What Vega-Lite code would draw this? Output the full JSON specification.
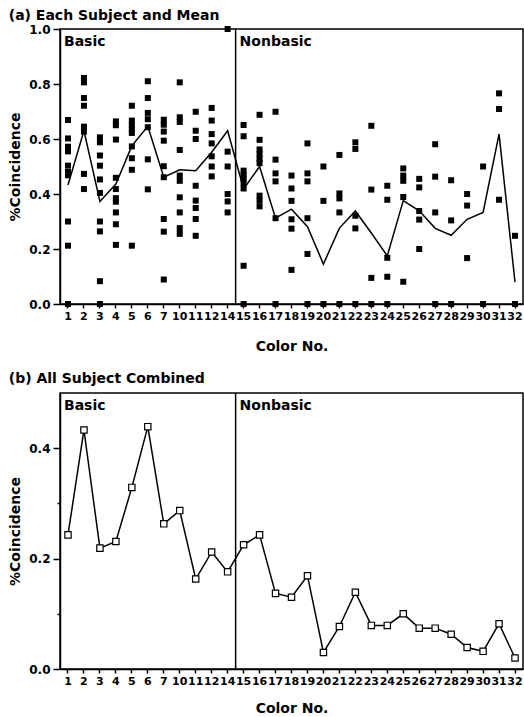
{
  "$schema": "https://vega.github.io/schema/vega-lite/v6.json",
  "padding": {"left": 7, "top": 8, "right": 0, "bottom": 0},
  "background": "white",
  "spacing": 17,
  "datasets": {
    "subjects": [
      {"color":1,"v":0.669},{"color":1,"v":0.602},{"color":1,"v":0.572},{"color":1,"v":0.555},{"color":1,"v":0.503},{"color":1,"v":0.48},{"color":1,"v":0.468},{"color":1,"v":0.30},{"color":1,"v":0.212},{"color":1,"v":0},
      {"color":2,"v":0.822},{"color":2,"v":0.806},{"color":2,"v":0.749},{"color":2,"v":0.721},{"color":2,"v":0.645},{"color":2,"v":0.627},{"color":2,"v":0.473},{"color":2,"v":0.418},
      {"color":3,"v":0.606},{"color":3,"v":0.588},{"color":3,"v":0.54},{"color":3,"v":0.503},{"color":3,"v":0.453},{"color":3,"v":0.404},{"color":3,"v":0.30},{"color":3,"v":0.264},{"color":3,"v":0.083},{"color":3,"v":0},
      {"color":4,"v":0.664},{"color":4,"v":0.65},{"color":4,"v":0.598},{"color":4,"v":0.459},{"color":4,"v":0.418},{"color":4,"v":0.385},{"color":4,"v":0.372},{"color":4,"v":0.333},{"color":4,"v":0.29},{"color":4,"v":0.215},
      {"color":5,"v":0.721},{"color":5,"v":0.667},{"color":5,"v":0.65},{"color":5,"v":0.635},{"color":5,"v":0.622},{"color":5,"v":0.573},{"color":5,"v":0.53},{"color":5,"v":0.488},{"color":5,"v":0.212},
      {"color":6,"v":0.81},{"color":6,"v":0.749},{"color":6,"v":0.695},{"color":6,"v":0.672},{"color":6,"v":0.643},{"color":6,"v":0.526},{"color":6,"v":0.417},
      {"color":7,"v":0.67},{"color":7,"v":0.652},{"color":7,"v":0.627},{"color":7,"v":0.594},{"color":7,"v":0.501},{"color":7,"v":0.461},{"color":7,"v":0.309},{"color":7,"v":0.263},{"color":7,"v":0.089},
      {"color":10,"v":0.806},{"color":10,"v":0.679},{"color":10,"v":0.662},{"color":10,"v":0.56},{"color":10,"v":0.467},{"color":10,"v":0.448},{"color":10,"v":0.388},{"color":10,"v":0.333},{"color":10,"v":0.276},{"color":10,"v":0.255},
      {"color":11,"v":0.699},{"color":11,"v":0.63},{"color":11,"v":0.6},{"color":11,"v":0.43},{"color":11,"v":0.376},{"color":11,"v":0.349},{"color":11,"v":0.309},{"color":11,"v":0.248},
      {"color":12,"v":0.713},{"color":12,"v":0.667},{"color":12,"v":0.618},{"color":12,"v":0.584},{"color":12,"v":0.537},{"color":12,"v":0.5},{"color":12,"v":0.464},
      {"color":14,"v":1.0},{"color":14,"v":0.554},{"color":14,"v":0.5},{"color":14,"v":0.4},{"color":14,"v":0.373},{"color":14,"v":0.333},
      {"color":15,"v":0.651},{"color":15,"v":0.61},{"color":15,"v":0.485},{"color":15,"v":0.47},{"color":15,"v":0.455},{"color":15,"v":0.44},{"color":15,"v":0.42},{"color":15,"v":0.139},{"color":15,"v":0},
      {"color":16,"v":0.688},{"color":16,"v":0.597},{"color":16,"v":0.562},{"color":16,"v":0.545},{"color":16,"v":0.528},{"color":16,"v":0.512},{"color":16,"v":0.394},{"color":16,"v":0.376},{"color":16,"v":0.355},
      {"color":17,"v":0.699},{"color":17,"v":0.525},{"color":17,"v":0.475},{"color":17,"v":0.446},{"color":17,"v":0.312},{"color":17,"v":0},
      {"color":18,"v":0.467},{"color":18,"v":0.42},{"color":18,"v":0.375},{"color":18,"v":0.308},{"color":18,"v":0.274},{"color":18,"v":0.124},
      {"color":19,"v":0.584},{"color":19,"v":0.475},{"color":19,"v":0.446},{"color":19,"v":0.312},{"color":19,"v":0.182},{"color":19,"v":0},
      {"color":20,"v":0.5},{"color":20,"v":0.375},{"color":20,"v":0},
      {"color":21,"v":0.542},{"color":21,"v":0.402},{"color":21,"v":0.384},{"color":21,"v":0.333},{"color":21,"v":0},
      {"color":22,"v":0.588},{"color":22,"v":0.564},{"color":22,"v":0.321},{"color":22,"v":0.275},{"color":22,"v":0},
      {"color":23,"v":0.648},{"color":23,"v":0.416},{"color":23,"v":0.095},{"color":23,"v":0},
      {"color":24,"v":0.43},{"color":24,"v":0.379},{"color":24,"v":0.168},{"color":24,"v":0.099},{"color":24,"v":0},
      {"color":25,"v":0.493},{"color":25,"v":0.467},{"color":25,"v":0.448},{"color":25,"v":0.389},{"color":25,"v":0.081},
      {"color":26,"v":0.455},{"color":26,"v":0.424},{"color":26,"v":0.338},{"color":26,"v":0.307},{"color":26,"v":0.2},
      {"color":27,"v":0.581},{"color":27,"v":0.463},{"color":27,"v":0.333},{"color":27,"v":0},
      {"color":28,"v":0.45},{"color":28,"v":0.304},{"color":28,"v":0},
      {"color":29,"v":0.4},{"color":29,"v":0.358},{"color":29,"v":0.167},
      {"color":30,"v":0.5},{"color":30,"v":0},
      {"color":31,"v":0.766},{"color":31,"v":0.709},{"color":31,"v":0.379},
      {"color":32,"v":0.248},{"color":32,"v":0}
    ],
    "meanA": [
      {"color":1,"v":0.433},{"color":2,"v":0.63},{"color":3,"v":0.373},{"color":4,"v":0.436},{"color":5,"v":0.575},{"color":6,"v":0.646},{"color":7,"v":0.461},{"color":10,"v":0.488},{"color":11,"v":0.485},{"color":12,"v":0.552},{"color":14,"v":0.63},
      {"color":15,"v":0.418},{"color":16,"v":0.5},{"color":17,"v":0.312},{"color":18,"v":0.345},{"color":19,"v":0.281},{"color":20,"v":0.145},{"color":21,"v":0.276},{"color":22,"v":0.338},{"color":23,"v":0.258},{"color":24,"v":0.175},{"color":25,"v":0.376},{"color":26,"v":0.339},{"color":27,"v":0.275},{"color":28,"v":0.25},{"color":29,"v":0.308},{"color":30,"v":0.333},{"color":31,"v":0.618},{"color":32,"v":0.079}
    ],
    "combined": [
      {"color":1,"v":0.243},{"color":2,"v":0.433},{"color":3,"v":0.219},{"color":4,"v":0.231},{"color":5,"v":0.329},{"color":6,"v":0.439},{"color":7,"v":0.263},{"color":10,"v":0.287},{"color":11,"v":0.163},{"color":12,"v":0.212},{"color":14,"v":0.176},
      {"color":15,"v":0.225},{"color":16,"v":0.243},{"color":17,"v":0.137},{"color":18,"v":0.13},{"color":19,"v":0.169},{"color":20,"v":0.03},{"color":21,"v":0.077},{"color":22,"v":0.139},{"color":23,"v":0.079},{"color":24,"v":0.079},{"color":25,"v":0.1},{"color":26,"v":0.074},{"color":27,"v":0.074},{"color":28,"v":0.063},{"color":29,"v":0.039},{"color":30,"v":0.032},{"color":31,"v":0.082},{"color":32,"v":0.02}
    ],
    "groups": [
      {"label":"Basic","color":1},{"label":"Nonbasic","color":15}
    ]
  },
  "vconcat": [
    {
      "width": 463,
      "height": 275,
      "title": {"text": "(a) Each Subject and Mean", "anchor": "start", "fontSize": 14, "fontWeight": "bold", "font": "DejaVu Sans", "color": "black", "offset": 0},
      "layer": [
        {
          "data": {"name": "subjects"},
          "mark": {"type": "point", "shape": "square", "filled": true, "color": "black", "size": 36, "opacity": 1, "clip": false},
          "encoding": {
            "x": {"field": "color", "type": "ordinal", "title": "Color No.",
              "scale": {"type": "band", "paddingInner": 0, "paddingOuter": 0, "domain": [1,2,3,4,5,6,7,10,11,12,14,15,16,17,18,19,20,21,22,23,24,25,26,27,28,29,30,31,32]},
              "axis": {"labelAngle": 0, "labelFontSize": 11, "labelOverlap": false, "tickSize": 4, "labelPadding": 2, "titlePadding": 18}},
            "y": {"field": "v", "type": "quantitative", "title": "%Coincidence",
              "scale": {"domain": [0, 1], "nice": false, "zero": true},
              "axis": {"values": [0,0.1,0.2,0.3,0.4,0.5,0.6,0.7,0.8,0.9,1.0], "format": ".1f", "labelFontSize": 12,
                "labelExpr": "round(datum.value*10)%2==0 ? datum.label : ''",
                "tickSize": {"condition": {"test": "round(datum.value*10)%2==1", "value": 3}, "value": 7},
                "labelPadding": 3, "titlePadding": 6}}
          }
        },
        {
          "data": {"name": "meanA"},
          "mark": {"type": "line", "color": "black", "strokeWidth": 1.5},
          "encoding": {
            "x": {"field": "color", "type": "ordinal"},
            "y": {"field": "v", "type": "quantitative"}
          }
        },
        {
          "data": {"values": [{"color": 15}]},
          "mark": {"type": "rule", "color": "black", "strokeWidth": 1.5},
          "encoding": {"x": {"field": "color", "type": "ordinal", "bandPosition": 0}}
        },
        {
          "data": {"name": "groups"},
          "mark": {"type": "text", "align": "left", "baseline": "top", "dx": 4, "dy": 6, "fontSize": 14, "fontWeight": "bold", "font": "DejaVu Sans", "color": "black"},
          "encoding": {
            "x": {"field": "color", "type": "ordinal", "bandPosition": 0},
            "y": {"datum": 1, "type": "quantitative"},
            "text": {"field": "label"}
          }
        }
      ]
    },
    {
      "width": 463,
      "height": 276,
      "title": {"text": "(b) All Subject Combined", "anchor": "start", "fontSize": 14, "fontWeight": "bold", "font": "DejaVu Sans", "color": "black", "offset": 6},
      "layer": [
        {
          "data": {"name": "combined"},
          "mark": {"type": "line", "color": "black", "strokeWidth": 1.5},
          "encoding": {
            "x": {"field": "color", "type": "ordinal", "title": "Color No.",
              "scale": {"type": "band", "paddingInner": 0, "paddingOuter": 0, "domain": [1,2,3,4,5,6,7,10,11,12,14,15,16,17,18,19,20,21,22,23,24,25,26,27,28,29,30,31,32]},
              "axis": {"labelAngle": 0, "labelFontSize": 11, "labelOverlap": false, "tickSize": 4, "labelPadding": 2, "titlePadding": 15}},
            "y": {"field": "v", "type": "quantitative", "title": "%Coincidence",
              "scale": {"domain": [0, 0.5], "nice": false, "zero": true},
              "axis": {"values": [0,0.1,0.2,0.3,0.4], "format": ".1f", "labelFontSize": 12,
                "labelExpr": "round(datum.value*10)%2==0 ? datum.label : ''",
                "tickSize": {"condition": {"test": "round(datum.value*10)%2==1", "value": 3}, "value": 7},
                "labelPadding": 3, "titlePadding": 6}}
          }
        },
        {
          "data": {"name": "combined"},
          "mark": {"type": "point", "shape": "square", "filled": true, "fill": "white", "stroke": "black", "strokeWidth": 1.2, "size": 40, "opacity": 1, "clip": false},
          "encoding": {
            "x": {"field": "color", "type": "ordinal"},
            "y": {"field": "v", "type": "quantitative"}
          }
        },
        {
          "data": {"values": [{"color": 15}]},
          "mark": {"type": "rule", "color": "black", "strokeWidth": 1.5},
          "encoding": {"x": {"field": "color", "type": "ordinal", "bandPosition": 0}}
        },
        {
          "data": {"name": "groups"},
          "mark": {"type": "text", "align": "left", "baseline": "top", "dx": 4, "dy": 6, "fontSize": 14, "fontWeight": "bold", "font": "DejaVu Sans", "color": "black"},
          "encoding": {
            "x": {"field": "color", "type": "ordinal", "bandPosition": 0},
            "y": {"datum": 0.5, "type": "quantitative"},
            "text": {"field": "label"}
          }
        }
      ]
    }
  ],
  "config": {
    "font": "DejaVu Sans",
    "view": {"stroke": "black", "strokeWidth": 1.5},
    "axis": {
      "grid": false,
      "domainColor": "black", "domainWidth": 1.5,
      "tickColor": "black", "tickWidth": 1.5,
      "labelColor": "black", "labelFont": "DejaVu Sans", "labelFontWeight": "bold",
      "titleColor": "black", "titleFont": "DejaVu Sans", "titleFontWeight": "bold", "titleFontSize": 14
    }
  }
}
